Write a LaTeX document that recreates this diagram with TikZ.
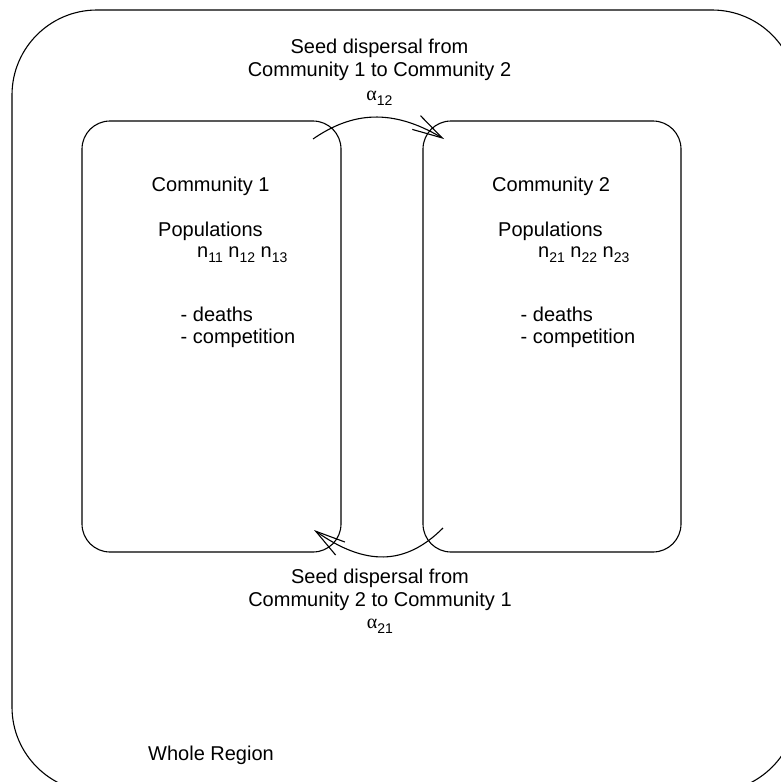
\documentclass[tikz,border=0pt]{standalone}
\usepackage{fontspec}
\setmainfont{Liberation Sans}
\newfontfamily\greekfont{Liberation Serif}
\usetikzlibrary{arrows.meta}
\newcommand{\subsc}[1]{\raisebox{-0.28em}{\fontsize{14}{14}\selectfont #1}}
\tikzset{
  box/.style={draw, line width=1.1pt, rounded corners=#1, inner sep=0pt},
  txt/.style={inner sep=0pt, font=\fontsize{20}{24}\selectfont},
  flow/.style={line width=1.1pt, -{Straight Barb[length=30pt, width=16pt, line width=1.1pt]}}
}
\begin{document}
\begin{tikzpicture}[x=1pt, y=-1pt]
\useasboundingbox (0,0) rectangle (781,782);
\clip (0,0) rectangle (781,782);
\fill[white] (0,0) rectangle (781,782);
% whole region
\node[box=85pt, minimum width=785pt, minimum height=782pt] (region) at (404.5,401) {};
% communities
\node[box=28pt, minimum width=259pt, minimum height=431pt] (comm1) at (211.5,336.5) {};
\node[box=28pt, minimum width=258pt, minimum height=431pt] (comm2) at (552,336.5) {};
% arrows
\coordinate (s12) at (313,139);
\coordinate (e12) at (444,139);
\coordinate (s21) at (443,528);
\coordinate (e21) at (314,530);
\draw[flow] (s12) .. controls (352,112) and (392,108) .. (e12);
\draw[flow] (s21) .. controls (405,566) and (365,566) .. (e21);
% top label
\node[txt, anchor=base] (t1) at (379.5,53.5) {Seed dispersal from};
\node[txt, anchor=base] (t2) at (379.5,76.5) {Community 1 to Community 2};
\node[txt, anchor=base] (t3) at (379.5,100) {{\greekfont α}\subsc{12}};
% bottom label
\node[txt, anchor=base] (b1) at (380,583) {Seed dispersal from};
\node[txt, anchor=base] (b2) at (380,606) {Community 2 to Community 1};
\node[txt, anchor=base] (b3) at (380,628) {{\greekfont α}\subsc{21}};
% community 1 text
\node[txt, anchor=base west] (c1t) at (151.5,191) {Community 1};
\node[txt, anchor=base west] (c1p) at (158,236) {Populations};
\node[txt, anchor=base west] (c1n) at (197,257) {n\subsc{11} n\subsc{12} n\subsc{13}};
\node[txt, anchor=base west] (c1d) at (180.5,321) {- deaths};
\node[txt, anchor=base west] (c1c) at (180.5,343) {- competition};
% community 2 text
\node[txt, anchor=base west] (c2t) at (492,191) {Community 2};
\node[txt, anchor=base west] (c2p) at (498,236) {Populations};
\node[txt, anchor=base west] (c2n) at (538,257) {n\subsc{21} n\subsc{22} n\subsc{23}};
\node[txt, anchor=base west] (c2d) at (520.5,321) {- deaths};
\node[txt, anchor=base west] (c2c) at (520.5,343) {- competition};
% region label
\node[txt, anchor=base west] (wr) at (148,760) {Whole Region};
\end{tikzpicture}
\end{document}
